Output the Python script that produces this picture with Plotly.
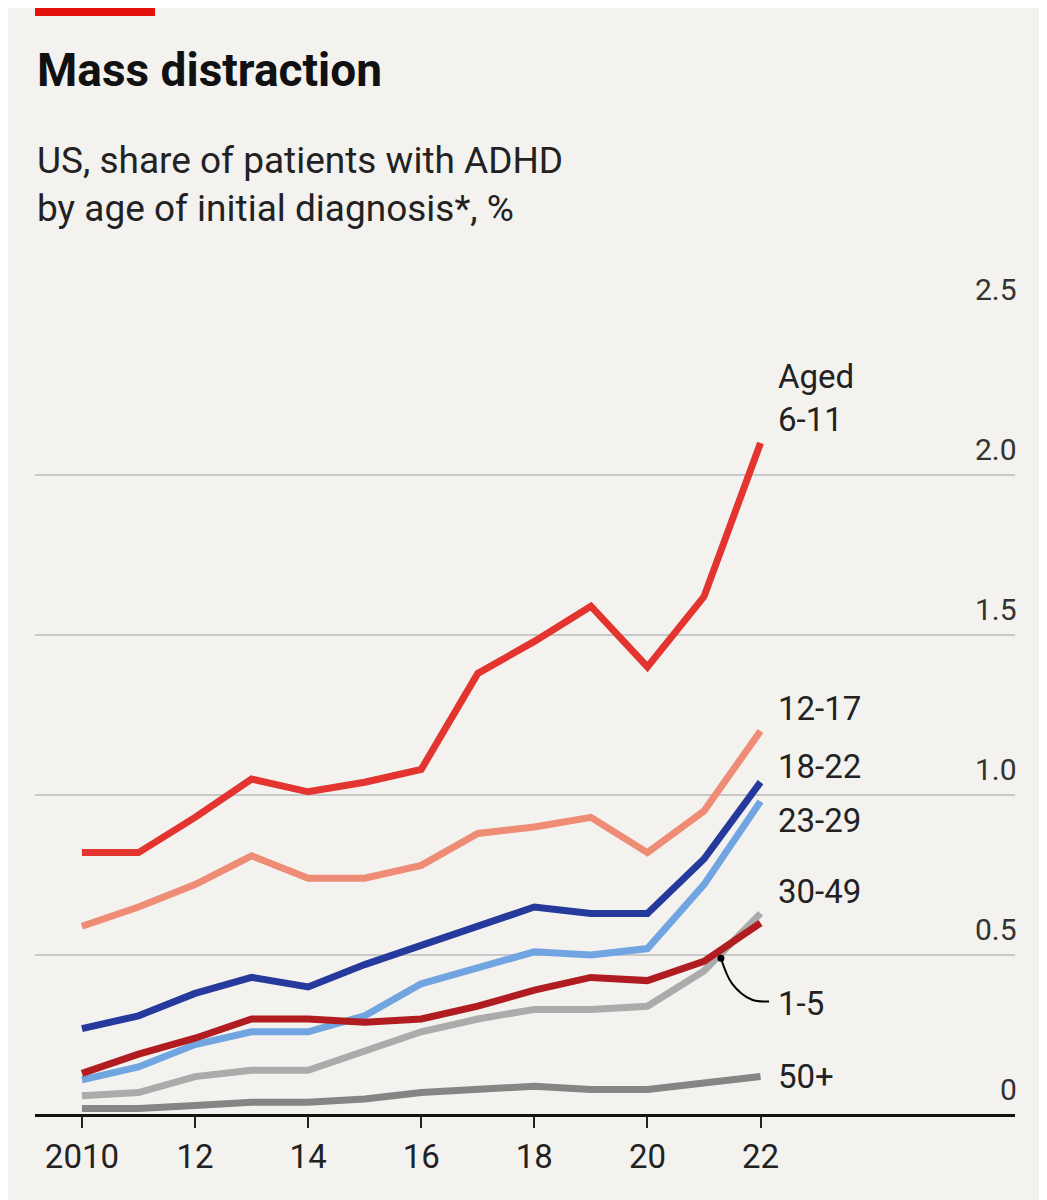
import plotly.graph_objects as go

years = list(range(2010, 2023))
s_6_11 = [0.82,0.82,0.93,1.05,1.01,1.04,1.08,1.38,1.48,1.59,1.40,1.62,2.10]
s_12_17 = [0.59,0.65,0.72,0.81,0.74,0.74,0.78,0.88,0.90,0.93,0.82,0.95,1.20]
s_18_22 = [0.27,0.31,0.38,0.43,0.40,0.47,0.53,0.59,0.65,0.63,0.63,0.80,1.04]
s_23_29 = [0.11,0.15,0.22,0.26,0.26,0.31,0.41,0.46,0.51,0.50,0.52,0.72,0.98]
s_1_5 = [0.13,0.19,0.24,0.30,0.30,0.29,0.30,0.34,0.39,0.43,0.42,0.48,0.60]
s_30_49 = [0.06,0.07,0.12,0.14,0.14,0.20,0.26,0.30,0.33,0.33,0.34,0.45,0.63]
s_50p = [0.02,0.02,0.03,0.04,0.04,0.05,0.07,0.08,0.09,0.08,0.08,0.10,0.12]

series = [
    ("50+", s_50p, "#858585"),
    ("30-49", s_30_49, "#ababab"),
    ("23-29", s_23_29, "#70a5e2"),
    ("1-5", s_1_5, "#b01c1f"),
    ("18-22", s_18_22, "#253a9c"),
    ("12-17", s_12_17, "#ef8c76"),
    ("Aged 6-11", s_6_11, "#e3342f"),
]
labels = [("Aged<br>6-11", 2.24), ("12-17", 1.27), ("18-22", 1.09), ("23-29", 0.92),
          ("30-49", 0.70), ("1-5", 0.35), ("50+", 0.12)]
yticks = [0, 0.5, 1.0, 1.5, 2.0, 2.5]
ytext = ["0", "0.5", "1.0", "1.5", "2.0", "2.5"]
xticks = [2010, 2012, 2014, 2016, 2018, 2020, 2022]
xtext = ["2010", "12", "14", "16", "18", "20", "22"]

FONT = "Roboto"
T = 307  # top margin
PH = 1200 - T - 93  # plot height
fig = go.Figure()
for name, vals, col in series:
    fig.add_trace(go.Scatter(x=years, y=vals, mode="lines", name=name,
                             line=dict(color=col, width=7), showlegend=False))
fig.add_trace(go.Scatter(x=[2021.3, 2021.5, 2021.85, 2022.15], y=[0.49, 0.41, 0.36, 0.355],
                         mode="lines", line=dict(color="black", width=2, shape="spline"),
                         showlegend=False))
fig.add_trace(go.Scatter(x=[2021.3], y=[0.49], mode="markers",
                         marker=dict(color="black", size=7), showlegend=False))

for t, y in labels:
    fig.add_annotation(x=2022.27, y=y, text=t, showarrow=False, xanchor="left",
                       yanchor="middle", align="left",
                       font=dict(family=FONT, size=33, color="#222"))
for v, t in zip(yticks, ytext):
    fig.add_annotation(x=1, xref="paper", y=v, text=t, showarrow=False, xanchor="right",
                       yanchor="bottom", yshift=6, xshift=4,
                       font=dict(family=FONT, size=30, color="#333"))

fig.add_shape(type="rect", xref="paper", yref="paper", x0=0, x1=120/980,
              y0=1 + (T - 8) / PH, y1=1 + (T + 2) / PH, fillcolor="#e3120b", line_width=0)

fig.add_annotation(xref="paper", yref="paper", x=0, y=1 + (T - 62) / PH, text="<b>Mass distraction</b>",
                   showarrow=False, xanchor="left", yanchor="middle",
                   font=dict(family=FONT, size=46, color="#111"))
fig.add_annotation(xref="paper", yref="paper", x=0, y=1 + (T - 177) / PH,
                   text="US, share of patients with ADHD<br>by age of initial diagnosis*, %",
                   showarrow=False, xanchor="left", yanchor="middle", align="left",
                   font=dict(family=FONT, size=37, color="#222"))

fig.update_layout(
    width=1047, height=1200, margin=dict(l=27, r=40, t=T, b=93),
    paper_bgcolor="#f3f2ef", plot_bgcolor="#f3f2ef",
    xaxis=dict(range=[2009.17, 2026.5], tickvals=xticks, ticktext=xtext, ticks="outside",
               ticklen=12, tickcolor="#222", tickwidth=2, showgrid=False, zeroline=False,
               showline=False, tickfont=dict(family=FONT, size=33, color="#222")),
    yaxis=dict(range=[0, 2.5], tickvals=yticks, showticklabels=False, gridcolor="#c8c8c8",
               gridwidth=1.5, zeroline=True, zerolinecolor="#111", zerolinewidth=2.5),
)
fig.write_html("out.html")
